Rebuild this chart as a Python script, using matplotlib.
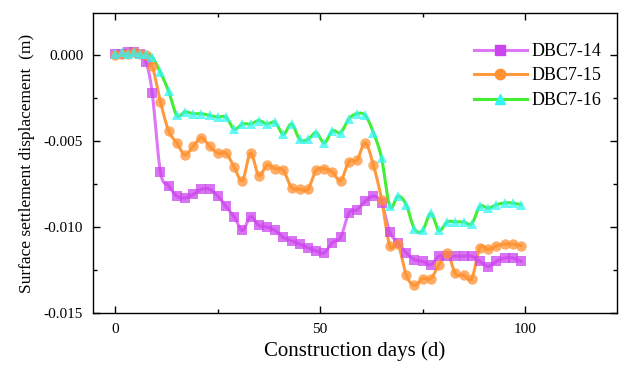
import matplotlib
matplotlib.use("Agg")
import matplotlib.pyplot as plt
import numpy as np
from matplotlib.ticker import MultipleLocator

plt.rcParams["font.family"] = ["Liberation Serif", "DejaVu Serif"]

DAYS = [0, 1.5, 3, 4.5, 6, 7.5, 9] + list(range(11, 100, 2))

DBC7_14 = [0.0001, 0.0001, 0.0002, 0.0002, 0.0001, -0.0004, -0.0022,
           -0.0068, -0.0076, -0.0082, -0.0083, -0.0081, -0.0078, -0.0078,
           -0.0082, -0.0088, -0.0094, -0.0102, -0.0094, -0.0099, -0.0100,
           -0.0102, -0.0106, -0.0108, -0.0110, -0.0112, -0.0114, -0.0115,
           -0.0109, -0.0106, -0.0092, -0.0090, -0.0085, -0.0082, -0.0086,
           -0.0103, -0.0109, -0.0115, -0.0119, -0.0120, -0.0122, -0.0117,
           -0.0117, -0.0117, -0.0117, -0.0117, -0.0120, -0.0123, -0.0120,
           -0.0118, -0.0118, -0.0120]
DBC7_15 = [0.0000, 0.0001, 0.0001, 0.0002, 0.0001, 0.0000, -0.0006,
           -0.0027, -0.0044, -0.0051, -0.0058, -0.0053, -0.0048, -0.0053,
           -0.0057, -0.0057, -0.0065, -0.0073, -0.0057, -0.0070, -0.0064,
           -0.0066, -0.0067, -0.0077, -0.0078, -0.0078, -0.0067, -0.0066,
           -0.0068, -0.0073, -0.0062, -0.0061, -0.0051, -0.0064, -0.0084,
           -0.0111, -0.0110, -0.0128, -0.0134, -0.0130, -0.0130, -0.0122,
           -0.0115, -0.0127, -0.0128, -0.0130, -0.0112, -0.0113, -0.0111,
           -0.0110, -0.0110, -0.0111]
DBC7_16 = [0.0001, 0.0002, 0.0001, 0.0002, 0.0001, 0.0001, -0.0001,
           -0.0010, -0.0021, -0.0035, -0.0033, -0.0034, -0.0034, -0.0035,
           -0.0036, -0.0036, -0.0043, -0.0040, -0.0040, -0.0038, -0.0040,
           -0.0039, -0.0046, -0.0040, -0.0049, -0.0049, -0.0045, -0.0051,
           -0.0044, -0.0045, -0.0037, -0.0034, -0.0035, -0.0045, -0.0060,
           -0.0088, -0.0082, -0.0087, -0.0101, -0.0102, -0.0092, -0.0102,
           -0.0097, -0.0097, -0.0097, -0.0098, -0.0088, -0.0089, -0.0087,
           -0.0086, -0.0086, -0.0087]

SERIES = [
    ("DBC7-14", DBC7_14, "#dd77f5", "#cc44ee", "s"),
    ("DBC7-15", DBC7_15, "#ff9a3c", "#ff9233", "o"),
    ("DBC7-16", DBC7_16, "#44ee33", "#33f5f5", "^"),
]


def smooth(x, y, n=12):
    # Catmull-Rom through the points, like Origin's spline connector
    x = np.asarray(x, float); y = np.asarray(y, float)
    px = np.concatenate([[2 * x[0] - x[1]], x, [2 * x[-1] - x[-2]]])
    py = np.concatenate([[2 * y[0] - y[1]], y, [2 * y[-1] - y[-2]]])
    xs, ys = [], []
    t = np.linspace(0, 1, n, endpoint=False)
    for i in range(1, len(px) - 2):
        for arr, out in ((px, xs), (py, ys)):
            p0, p1, p2, p3 = arr[i - 1], arr[i], arr[i + 1], arr[i + 2]
            out.append(0.5 * (2 * p1 + (-p0 + p2) * t
                              + (2 * p0 - 5 * p1 + 4 * p2 - p3) * t ** 2
                              + (-p0 + 3 * p1 - 3 * p2 + p3) * t ** 3))
    xs.append([x[-1]]); ys.append([y[-1]])
    return np.concatenate(xs), np.concatenate(ys)


fig = plt.figure(figsize=(6.19, 3.66), dpi=100)
ax = fig.add_axes([0.150, 0.145, 0.847, 0.819])

for label, vals, lc, mc, mk in SERIES:
    sx, sy = smooth(DAYS, vals)
    ax.plot(sx, sy, color=lc, lw=2.2, zorder=2)
    ax.plot(DAYS, vals, ls="none", marker=mk, ms=7.5, color=mc, alpha=0.75,
            markeredgewidth=0, zorder=3)
    ax.plot([], [], color=lc, lw=2.2, marker=mk, ms=7.5, mfc=mc, mec=mc,
            label=label)

ax.set_xlim(-5.5, 122.5)
ax.set_ylim(-0.015, 0.00245)
ax.xaxis.set_major_locator(MultipleLocator(50))
ax.xaxis.set_minor_locator(MultipleLocator(25))
ax.yaxis.set_major_locator(MultipleLocator(0.005))
ax.yaxis.set_minor_locator(MultipleLocator(0.0025))
ax.yaxis.set_major_formatter(matplotlib.ticker.FormatStrFormatter("%.3f"))
ax.tick_params(which="both", direction="in", top=True, right=True,
               labelsize=11, width=1.0)
ax.tick_params(which="major", length=5, pad=7)
ax.tick_params(which="minor", length=3)
for s in ax.spines.values():
    s.set_linewidth(1.0)

ax.set_xlabel("Construction days (d)", fontsize=15, labelpad=4)
ax.set_ylabel("Surface settlement displacement  (m)", fontsize=12.5, labelpad=6)
ax.legend(loc="upper right", bbox_to_anchor=(1.0, 0.955), frameon=False,
          fontsize=13, handlelength=2.9, labelspacing=0.42, handletextpad=0.25)

fig.savefig("out.png", dpi=100)
